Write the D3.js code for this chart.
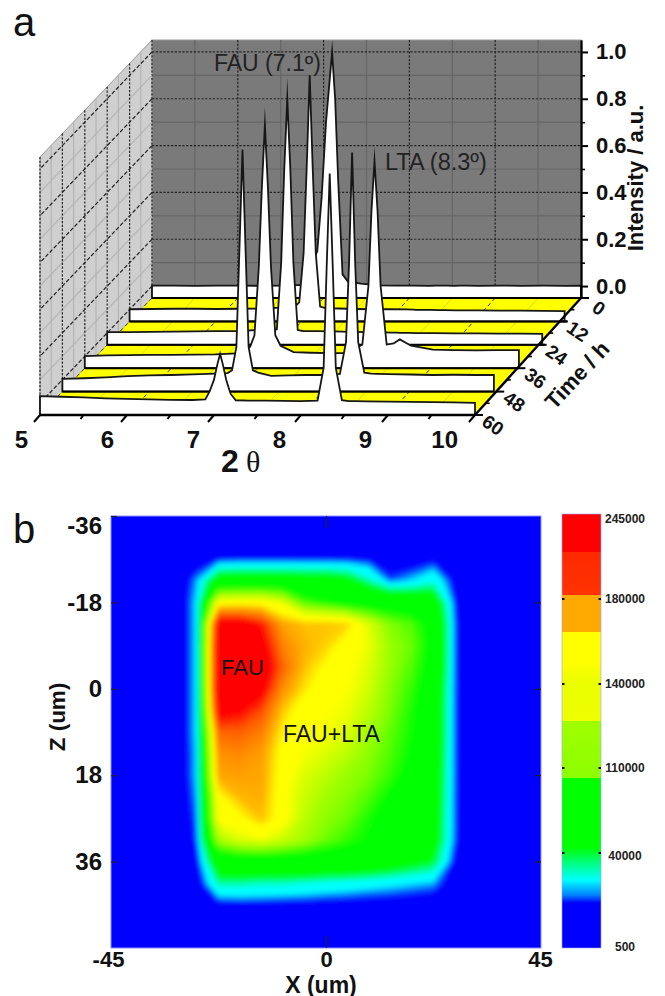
<!DOCTYPE html>
<html>
<head>
  <title>FAU / LTA time series and map</title>
  <style type="text/css">
    html, body { margin: 0; padding: 0; background: #fff; }
    svg { display: block; font-family: "Liberation Sans", Arial, sans-serif; }
    .bold text, text.bold { font-weight: bold; }
  </style>
</head>
<body>
<svg id="vis" width="665" height="996"></svg>

<script src="https://cdnjs.cloudflare.com/ajax/libs/d3/7.8.5/d3.min.js"></script>
<script type="text/javascript">
  // ---- panel a: diffraction patterns, one array per time
  var times = [0, 12, 24, 36, 48, 60]
  var intensityMajor = [0, 0.2, 0.4, 0.6, 0.8, 1]
  var intensityMinor = [0.1, 0.3, 0.5, 0.7, 0.9]
  var thetaMajor = [5, 6, 7, 8, 9, 10]
  var thetaMinor = [5.5, 6.5, 7.5, 8.5, 9.5]
  var timeMinor = [6, 18, 30, 42, 54]
  var thetaGrid = [5, 5.25, 5.5, 5.75, 6, 6.25, 6.5, 6.75, 6.9, 6.95, 7, 7.035, 7.07, 7.105, 7.14, 7.19, 7.25, 7.4, 7.6, 7.8, 8, 8.19, 8.26, 8.295, 8.33, 8.365, 8.4, 8.47, 8.55, 8.62, 8.75, 9, 9.25, 9.5, 9.75, 10]
  var scan0 = [.002, .002, .001, .002, .002, .001, .002, .005, .15, .38, .7, .85, 1, .8, .45, .05, .02, .01, .003, .002, .002, .001, .002, .002, .002, .002, .002, .001, .002, .002, .001, .002, .001, .002, .001, .002]
  var scan12 = [.001, .002, .003, .003, .002, .003, .004, .008, .012, .03, .24, .6, 1, .6, .24, .012, .006, .004, .002, .001, .001, 0, -.001, -.002, -.002, -.002, -.002, -.002, -.003, -.003, -.004, -.004, -.005, -.005, -.006, -.007]
  var scan24 = [.003, .003, .004, .005, .006, .007, .008, .012, .01, .015, .3, .7, 1, .7, .3, .012, .008, .007, .006, .004, .003, .002, .001, .001, .001, 0, 0, 0, -.001, -.001, -.001, -.002, -.002, -.003, -.003, -.004]
  var scan36 = [.001, .004, .005, .006, .006, .007, .008, .012, .04, .09, .38, .72, .987, .72, .38, .09, .045, .018, .015, .013, .013, .05, .3, .62, .833, .62, .3, .05, .055, .072, .045, .028, .026, .025, .026, .026]
  var scan48 = [.003, .006, .01, .015, .018, .02, .023, .026, .028, .04, .14, .56, .983, .56, .14, .04, .03, .016, .018, .02, .02, .025, .16, .5, .97, .5, .16, .03, .026, .025, .024, .022, .02, .021, .02, .02]
  var scan60 = [.03, .027, .024, .02, .018, .016, .014, .013, .016, .05, .1, .16, .21, .16, .1, .04, .012, .01, .01, .009, .008, .01, .15, .58, .98, .58, .15, .012, .008, .008, .007, .006, .005, .004, .003, .001]
  var scans = [scan0, scan12, scan24, scan36, scan48, scan60]
  var scanEnd = [9.93, 10.03, 10.03, 9.99, 9.96, 10]

  // ---- panel b: map, thousands of counts, rows z = -36..54, columns x = -45..45
  var xTicks = [-45, 0, 45]
  var zTicks = [-36, -18, 0, 18, 36]
  var mapRows = [
    [8, 8, 8, 8, 8, 8, 8, 8, 8, 8, 8, 8, 8, 8, 8, 8, 8, 8, 8, 8, 8],
    [8, 8, 8, 8, 8, 8, 8, 8, 8, 8, 8, 8, 8, 8, 8, 8, 8, 8, 8, 8, 8],
    [8, 8, 8, 8, 13, 17, 18, 18, 18, 18, 18, 18, 17, 12, 13, 16, 10, 8, 8, 8, 8],
    [8, 8, 8, 8, 24, 62, 64, 64, 64, 62, 62, 56, 40, 21, 26, 34, 15, 8, 8, 8, 8],
    [8, 8, 8, 8, 27, 150, 152, 152, 138, 100, 90, 78, 75, 75, 70, 65, 18, 8, 8, 8, 8],
    [8, 8, 8, 8, 27, 240, 240, 220, 178, 170, 170, 166, 135, 110, 100, 78, 20, 8, 8, 8, 8],
    [8, 8, 8, 8, 27, 250, 250, 235, 190, 174, 166, 150, 140, 115, 105, 80, 20, 8, 8, 8, 8],
    [8, 8, 8, 8, 27, 250, 250, 245, 200, 170, 155, 148, 135, 115, 100, 78, 20, 8, 8, 8, 8],
    [8, 8, 8, 8, 27, 250, 250, 232, 185, 162, 148, 145, 132, 110, 95, 72, 20, 8, 8, 8, 8],
    [8, 8, 8, 8, 27, 235, 226, 208, 168, 148, 146, 140, 125, 108, 90, 70, 20, 8, 8, 8, 8],
    [8, 8, 8, 8, 27, 200, 202, 192, 158, 146, 143, 135, 118, 103, 88, 70, 20, 8, 8, 8, 8],
    [8, 8, 8, 8, 26, 185, 188, 180, 152, 143, 135, 125, 112, 100, 85, 68, 20, 8, 8, 8, 8],
    [8, 8, 8, 8, 26, 178, 180, 178, 150, 135, 125, 115, 108, 95, 80, 66, 20, 8, 8, 8, 8],
    [8, 8, 8, 8, 24, 155, 172, 175, 148, 130, 118, 110, 100, 85, 75, 64, 20, 8, 8, 8, 8],
    [8, 8, 8, 8, 22, 148, 155, 170, 150, 125, 112, 105, 90, 78, 70, 62, 20, 8, 8, 8, 8],
    [8, 8, 8, 8, 20, 120, 135, 140, 130, 118, 105, 95, 85, 72, 68, 60, 20, 8, 8, 8, 8],
    [8, 8, 8, 8, 15, 66, 72, 72, 72, 72, 70, 70, 68, 62, 55, 48, 15, 8, 8, 8, 8],
    [8, 8, 8, 8, 11, 40, 40, 38, 38, 36, 34, 32, 30, 28, 26, 24, 11, 8, 8, 8, 8],
    [8, 8, 8, 8, 9, 15, 16, 16, 15, 15, 14, 14, 13, 13, 12, 11, 8, 8, 8, 8, 8],
    [8, 8, 8, 8, 8, 8, 8, 8, 8, 8, 8, 8, 8, 8, 8, 8, 8, 8, 8, 8, 8],
    [8, 8, 8, 8, 8, 8, 8, 8, 8, 8, 8, 8, 8, 8, 8, 8, 8, 8, 8, 8, 8]
  ]
  var mapStops = [8, 17, 26, 33, 50, 85, 110, 130, 145, 156, 172, 205, 225]
  var mapColors = ['#0000ff', '#0000ff', '#00ffff', '#00ffff', '#00ff00', '#00ff00', '#88ff00', '#ccff00', '#ffff00', '#ffff00', '#ffb400', '#ff5500', '#ff0000']

  var barValues = [500, 40000, 110000, 140000, 180000, 245000]
  var barInnerTicks = [40000, 110000, 140000, 180000]
  var barStopValues = [500, 19000, 22300, 28600, 35800, 45000, 101800, 101800, 126800, 126800, 140000, 150000, 164500, 164500, 182900, 182900, 218000, 218000, 251000]
  var barStopColors = ['#0000ff', '#0000ff', '#0080ff', '#00ffff', '#00ff80', '#00ff00', '#00ff00', '#8cff00', '#a0ff00', '#eeff00', '#eaff00', '#ffff00', '#ffff00', '#ffaa00', '#ffaa00', '#ff3300', '#ff2a00', '#ff0000', '#ff0000']

  var svg = d3.select('#vis')

  // panel a scales: the walls are a sheared box
  var yA = d3.scaleLinear().domain([-0.051, 1.051]).range([298, 40])
  var xLeft = d3.scaleLinear().domain([0, 60]).range([152, 40])
  var xRight = d3.scaleLinear().domain([0, 60]).range([581, 475])
  var dropT = d3.scaleLinear().domain([0, 60]).range([0, 117])

  function xAt(theta, t) {
    return d3.scaleLinear().domain([5, 10]).range([xLeft(t), xRight(t)])(theta)
  }

  var a = svg.append('g')

  a.append('rect')
    .attr('x', xLeft(0)).attr('y', yA.range()[1])
    .attr('width', xRight(0) - xLeft(0)).attr('height', yA.range()[0] - yA.range()[1])
    .attr('fill', '#7a7a7a').attr('stroke', '#999')

  // left wall
  a.append('path')
    .attr('d', d3.line()([
      [xLeft(0), yA.range()[1]], [xLeft(0), yA.range()[0]],
      [xLeft(60), yA.range()[0] + dropT(60)], [xLeft(60), yA.range()[1] + dropT(60)]
    ]) + 'Z')
    .attr('fill', '#cfcfcf').attr('stroke', '#999')

  // back wall grid
  a.selectAll('.hMinor').data(intensityMinor).enter().append('line')
    .attr('x1', xLeft(0)).attr('x2', xRight(0))
    .attr('y1', yA).attr('y2', yA)
    .attr('stroke', '#666').attr('stroke-width', 1.2)
  a.selectAll('.vMinor').data(thetaMinor).enter().append('line')
    .attr('x1', function(d) { return xAt(d, 0) }).attr('x2', function(d) { return xAt(d, 0) })
    .attr('y1', yA.range()[1]).attr('y2', yA.range()[0])
    .attr('stroke', '#666').attr('stroke-width', 1.2)
  a.selectAll('.hMajor').data(intensityMajor).enter().append('line')
    .attr('x1', xLeft(0)).attr('x2', xRight(0))
    .attr('y1', yA).attr('y2', yA)
    .attr('stroke', '#222').attr('stroke-width', 1.2).attr('stroke-dasharray', '2.2,1.6')
  a.selectAll('.vMajor').data(thetaMajor.slice(0, 5)).enter().append('line')
    .attr('x1', function(d) { return xAt(d, 0) }).attr('x2', function(d) { return xAt(d, 0) })
    .attr('y1', yA.range()[1]).attr('y2', yA.range()[0])
    .attr('stroke', '#222').attr('stroke-width', 1.2).attr('stroke-dasharray', '2.2,1.6')

  // left wall grid
  a.selectAll('.wMinorT').data(timeMinor).enter().append('line')
    .attr('x1', xLeft).attr('x2', xLeft)
    .attr('y1', function(d) { return yA.range()[1] + dropT(d) })
    .attr('y2', function(d) { return yA.range()[0] + dropT(d) })
    .attr('stroke', '#b4b4b4').attr('stroke-width', 1.2)
  a.selectAll('.wMinorI').data(intensityMinor).enter().append('line')
    .attr('x1', xLeft(0)).attr('x2', xLeft(60))
    .attr('y1', yA).attr('y2', function(d) { return yA(d) + dropT(60) })
    .attr('stroke', '#b4b4b4').attr('stroke-width', 1.2)
  a.selectAll('.wMajorT').data(times.slice(1)).enter().append('line')
    .attr('x1', xLeft).attr('x2', xLeft)
    .attr('y1', function(d) { return yA.range()[1] + dropT(d) })
    .attr('y2', function(d) { return yA.range()[0] + dropT(d) })
    .attr('stroke', '#222').attr('stroke-width', 1.2).attr('stroke-dasharray', '2.2,1.6')
  a.selectAll('.wMajorI').data(intensityMajor).enter().append('line')
    .attr('x1', xLeft(0)).attr('x2', xLeft(60))
    .attr('y1', yA).attr('y2', function(d) { return yA(d) + dropT(60) })
    .attr('stroke', '#222').attr('stroke-width', 1.2).attr('stroke-dasharray', '4,2')

  // floor
  a.append('path')
    .attr('d', d3.line()([
      [xLeft(0), yA(-0.051)], [xRight(0), yA(-0.051)],
      [xRight(60), yA(-0.051) + dropT(60)], [xLeft(60), yA(-0.051) + dropT(60)]
    ]) + 'Z')
    .attr('fill', '#ffff00')
  a.selectAll('.fMinor').data(thetaMinor).enter().append('line')
    .attr('x1', function(d) { return xAt(d, 0) }).attr('x2', function(d) { return xAt(d, 60) })
    .attr('y1', yA(-0.051)).attr('y2', yA(-0.051) + dropT(60))
    .attr('stroke', '#d8d830').attr('stroke-width', 1)
  a.selectAll('.fMajor').data(thetaMajor).enter().append('line')
    .attr('x1', function(d) { return xAt(d, 0) }).attr('x2', function(d) { return xAt(d, 60) })
    .attr('y1', yA(-0.051)).attr('y2', yA(-0.051) + dropT(60))
    .attr('stroke', '#333').attr('stroke-width', 1).attr('stroke-dasharray', '4,3')

  // the ribbons, back to front
  var ribbon = d3.area()
    .x(function(d) { return d.x })
    .y0(function(d) { return d.y0 })
    .y1(function(d) { return d.y1 })

  times.forEach(function(t, k) {
    // scans run at a fixed 87 px per degree, each stops at its own end
    var xs = d3.scaleLinear().domain([5, 10]).range([xLeft(t), xLeft(t) + 435])
    var xEnd = xs(scanEnd[k])
    var pts = thetaGrid.map(function(th, i) {
      return { x: Math.min(xs(th), xEnd), y0: yA(-0.051) + dropT(t), y1: yA(scans[k][i]) + dropT(t) }
    })
    a.append('path')
      .attr('d', ribbon(pts) + 'Z')
      .attr('fill', '#fff').attr('stroke', '#161616').attr('stroke-width', 1.8)
      .attr('stroke-linejoin', 'miter').attr('stroke-miterlimit', 30)
    a.append('line')
      .attr('x1', xLeft(t)).attr('x2', xEnd)
      .attr('y1', yA(-0.051) + dropT(t)).attr('y2', yA(-0.051) + dropT(t))
      .attr('stroke', '#000').attr('stroke-width', 2)
  })

  // intensity axis
  var axisMajor = d3.axisRight(yA).tickValues(intensityMajor).tickSizeInner(7).tickSizeOuter(0)
    .tickPadding(8).tickFormat(d3.format('.1f'))
  var gy = a.append('g').attr('class', 'bold').attr('transform', 'translate(' + xRight(0) + ',0)').call(axisMajor)
  gy.selectAll('path, line').attr('stroke', '#000').attr('stroke-width', 2)
  gy.selectAll('text').attr('font-size', 22).attr('fill', '#111').attr('font-family', '"Liberation Sans", Arial, sans-serif')
  var gyMinor = a.append('g').attr('transform', 'translate(' + xRight(0) + ',0)')
    .call(d3.axisRight(yA).tickValues(intensityMinor).tickSizeInner(4).tickSizeOuter(0).tickFormat(''))
  gyMinor.selectAll('path, line').attr('stroke', '#000').attr('stroke-width', 1.6)

  a.append('text').attr('class', 'bold')
    .attr('transform', 'translate(635,178) rotate(-90)').attr('text-anchor', 'middle')
    .attr('dy', '0.35em').attr('font-size', 22).attr('fill', '#111')
    .text('Intensity / a.u.')

  // slanted theta axis
  var frontY = yA(-0.051) + dropT(60)
  a.append('line').attr('x1', xLeft(60)).attr('x2', xRight(60))
    .attr('y1', frontY).attr('y2', frontY).attr('stroke', '#000').attr('stroke-width', 2.4)
  a.selectAll('.tMaj').data(thetaMajor).enter().append('line')
    .attr('x1', function(d) { return xAt(d, 60) }).attr('x2', function(d) { return xAt(d, 60) - 6 })
    .attr('y1', frontY).attr('y2', frontY + 7)
    .attr('stroke', '#000').attr('stroke-width', 2)
  a.selectAll('.tMin').data(thetaMinor).enter().append('line')
    .attr('x1', function(d) { return xAt(d, 60) }).attr('x2', function(d) { return xAt(d, 60) - 3 })
    .attr('y1', frontY).attr('y2', frontY + 4)
    .attr('stroke', '#000').attr('stroke-width', 2)
  var thetaLabelX = d3.scaleLinear().domain([5, 10]).range([28, 458])
  a.selectAll('.tLab').data(thetaMajor).enter().append('text')
    .attr('class', 'bold')
    .attr('x', thetaLabelX).attr('y', 448)
    .attr('text-anchor', 'end').attr('font-size', 24).attr('fill', '#111')
    .text(function(d) { return d })

  a.append('text').attr('class', 'bold').attr('x', 221).attr('y', 472)
    .attr('font-size', 32).attr('fill', '#111').text('2')
  a.append('text').attr('x', 246).attr('y', 472)
    .attr('font-size', 30).attr('font-family', '"Liberation Serif", serif').attr('fill', '#111').text('θ')

  // time axis along the right floor edge
  a.append('line').attr('x1', xRight(60)).attr('x2', xRight(0))
    .attr('y1', frontY).attr('y2', yA(-0.051)).attr('stroke', '#000').attr('stroke-width', 2.4)
  a.selectAll('.hTick').data(times).enter().append('line')
    .attr('x1', xRight).attr('x2', function(d) { return xRight(d) + 8 })
    .attr('y1', function(d) { return yA(-0.051) + dropT(d) })
    .attr('y2', function(d) { return yA(-0.051) + dropT(d) })
    .attr('stroke', '#000').attr('stroke-width', 2)
  a.selectAll('.hMin').data(timeMinor).enter().append('line')
    .attr('x1', xRight).attr('x2', function(d) { return xRight(d) + 4 })
    .attr('y1', function(d) { return yA(-0.051) + dropT(d) })
    .attr('y2', function(d) { return yA(-0.051) + dropT(d) })
    .attr('stroke', '#000').attr('stroke-width', 1.6)
  a.selectAll('.hLab').data(times).enter().append('text')
    .attr('class', 'bold')
    .attr('transform', function(d) {
      return 'translate(' + (xRight(d) + 18) + ',' + (yA(-0.051) + dropT(d) + 10) + ') rotate(35)'
    })
    .attr('text-anchor', 'middle').attr('dy', '0.35em')
    .attr('font-size', 19).attr('fill', '#111')
    .text(function(d) { return d })
  a.append('text').attr('class', 'bold')
    .attr('transform', 'translate(577,375) rotate(-47)')
    .attr('text-anchor', 'middle').attr('dy', '0.35em').attr('font-size', 22).attr('fill', '#111')
    .text('Time / h')

  a.append('text').attr('x', 214).attr('y', 71).attr('font-size', 23).attr('fill', '#222').text('FAU (7.1º)')
  a.append('text').attr('x', 385).attr('y', 170).attr('font-size', 23.5).attr('fill', '#222').text('LTA (8.3º)')
  svg.append('text').attr('x', 13).attr('y', 36).attr('font-size', 40).attr('fill', '#111').text('a')
  svg.append('text').attr('x', 13).attr('y', 543).attr('font-size', 40).attr('fill', '#111').text('b')

  // ---- panel b
  var xB = d3.scaleLinear().domain([-45, 45]).range([111, 541])
  var yB = d3.scaleLinear().domain([-36, 54]).range([516, 948])
  var color = d3.scaleLinear().domain(mapStops).range(mapColors).clamp(true)

  var nx = mapRows[0].length, ny = mapRows.length
  var gridX = d3.scaleLinear().domain([0.5, nx - 0.5]).range(xB.range())
  var gridY = d3.scaleLinear().domain([0.5, ny - 0.5]).range(yB.range())
  var path = d3.geoPath(d3.geoTransform({
    point: function(x, y) { this.stream.point(gridX(x), gridY(y)) }
  }))
  var contours = d3.contours().size([nx, ny]).thresholds(d3.range(4, 250, 1.5))(d3.merge(mapRows))

  var defs = svg.append('defs')
  defs.append('clipPath').attr('id', 'mapClip').append('rect')
    .attr('x', 111).attr('y', 516).attr('width', 430).attr('height', 432)
  defs.append('filter').attr('id', 'soft').attr('x', 0).attr('y', 0).attr('width', 1).attr('height', 1)
    .append('feGaussianBlur').attr('stdDeviation', 2.4)

  var b = svg.append('g')
  b.append('rect').attr('x', 111).attr('y', 516).attr('width', 430).attr('height', 432).attr('fill', '#0000ff')
  b.append('g').attr('clip-path', 'url(#mapClip)')
    .append('g').attr('filter', 'url(#soft)')
    .selectAll('path').data(contours).enter().append('path')
    .attr('d', path)
    .attr('fill', function(d) { return color(d.value) })
  b.append('rect').attr('x', 111).attr('y', 516).attr('width', 430).attr('height', 432)
    .attr('fill', 'none').attr('stroke', '#8f8fff').attr('stroke-width', 1)

  // axes with inward ticks
  var gl = b.append('g').attr('class', 'bold').attr('transform', 'translate(111,0)')
    .call(d3.axisLeft(yB).tickValues(zTicks).tickSizeInner(-6).tickSizeOuter(0).tickPadding(9)
      .tickFormat(function(d) { return String(d) }))
  gl.select('.domain').remove()
  gl.selectAll('line').attr('stroke', '#222').attr('stroke-width', 1.2)
  gl.selectAll('text').attr('font-size', 24).attr('fill', '#111').attr('font-family', '"Liberation Sans", Arial, sans-serif')
  gl.selectAll('text').filter(function(d) { return d === -36 }).attr('y', 10)

  var gr = b.append('g').attr('transform', 'translate(541,0)')
    .call(d3.axisRight(yB).tickValues(zTicks.slice(1)).tickSizeInner(-6).tickSizeOuter(0).tickFormat(''))
  gr.select('.domain').remove()
  gr.selectAll('line').attr('stroke', '#222').attr('stroke-width', 1.2)

  var gb = b.append('g').attr('class', 'bold').attr('transform', 'translate(0,948)')
    .call(d3.axisBottom(xB).tickValues(xTicks).tickSizeInner(-12).tickSizeOuter(0).tickPadding(3.5)
      .tickFormat(function(d) { return String(d) }))
  gb.select('.domain').remove()
  gb.selectAll('line').filter(function(d) { return d !== 0 }).remove()
  gb.selectAll('line').attr('stroke', '#222').attr('stroke-width', 1.2)
  gb.selectAll('text').attr('font-size', 22).attr('fill', '#111').attr('font-family', '"Liberation Sans", Arial, sans-serif')
  gb.selectAll('text').filter(function(d) { return d === -45 }).attr('x', -3)
  gb.selectAll('text').filter(function(d) { return d === 45 }).attr('x', -1)

  var gt = b.append('g').attr('transform', 'translate(0,516)')
    .call(d3.axisTop(xB).tickValues([0]).tickSizeInner(-12).tickSizeOuter(0).tickFormat(''))
  gt.select('.domain').remove()
  gt.selectAll('line').attr('stroke', '#222').attr('stroke-width', 1.2)

  b.append('text').attr('class', 'bold').attr('x', 321).attr('y', 992.5)
    .attr('text-anchor', 'middle').attr('font-size', 23).attr('fill', '#111').text('X (um)')
  b.append('text').attr('class', 'bold')
    .attr('transform', 'translate(65,717) rotate(-90)')
    .attr('text-anchor', 'middle').attr('font-size', 22.5).attr('fill', '#111').text('Z (um)')

  b.append('text').attr('x', 221).attr('y', 675).attr('font-size', 22).attr('fill', '#111').text('FAU')
  b.append('text').attr('x', 283).attr('y', 742).attr('font-size', 23).attr('fill', '#111').text('FAU+LTA')

  // colour bar, its value axis is not linear
  var barY = d3.scaleLinear().domain(barValues).range([947, 853, 768, 684, 599, 519])
  var grad = defs.append('linearGradient').attr('id', 'barFill')
    .attr('x1', 0).attr('x2', 0).attr('y1', 0).attr('y2', 1)
  // gradient stops run top to bottom, so highest value first
  grad.selectAll('stop').data(d3.range(barStopValues.length).reverse()).enter().append('stop')
    .attr('offset', function(i) { return (barY(barStopValues[i]) - 514) / 434 })
    .attr('stop-color', function(i) { return barStopColors[i] })

  var c = svg.append('g')
  c.append('rect').attr('x', 562).attr('y', 514).attr('width', 39).attr('height', 434)
    .attr('fill', 'url(#barFill)').attr('stroke', '#a0a0ff').attr('stroke-width', 0.6)
  c.selectAll('.barTickL').data(barInnerTicks).enter().append('rect')
    .attr('x', 562).attr('y', function(d) { return barY(d) - 1 }).attr('width', 2.5).attr('height', 2).attr('fill', '#111')
  c.selectAll('.barTickR').data(barInnerTicks).enter().append('rect')
    .attr('x', 598.5).attr('y', function(d) { return barY(d) - 1 }).attr('width', 2.5).attr('height', 2).attr('fill', '#111')
  c.selectAll('.barLab').data(barValues).enter().append('text')
    .attr('class', 'bold')
    .attr('x', 625).attr('y', function(d) { return barY(d) + (d === 40000 ? 3 : 0) })
    .attr('dy', '0.35em').attr('text-anchor', 'middle').attr('font-size', 12).attr('fill', '#222')
    .text(function(d) { return d })
</script>
</body>
</html>
